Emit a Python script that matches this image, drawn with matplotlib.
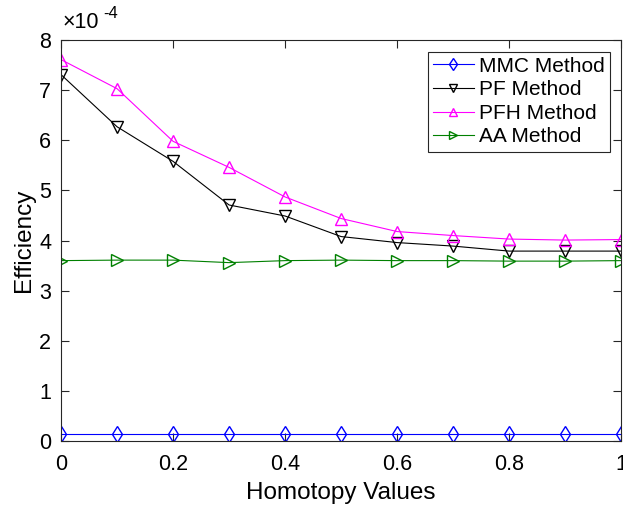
import numpy as np
import matplotlib
matplotlib.use("Agg")
import matplotlib.pyplot as plt
from matplotlib.ticker import FuncFormatter
from matplotlib.transforms import offset_copy

plt.rcParams['font.family'] = ['Liberation Sans', 'DejaVu Sans']

# homotopy values
homotopy = [0.0, 0.1, 0.2, 0.3, 0.4, 0.5, 0.6, 0.7, 0.8, 0.9, 1.0]

# efficiency of each method (x 1e-4)
mmc = [0.15, 0.15, 0.15, 0.15, 0.15, 0.15, 0.15, 0.15, 0.15, 0.15, 0.15]
pf = [7.31, 6.27, 5.58, 4.71, 4.49, 4.08, 3.96, 3.89, 3.79, 3.79, 3.79]
pfh = [7.61, 7.03, 5.98, 5.46, 4.87, 4.44, 4.18, 4.10, 4.03, 4.01, 4.02]
aa = [3.60, 3.61, 3.61, 3.56, 3.60, 3.61, 3.60, 3.60, 3.59, 3.59, 3.60]

scale = 1e-4

fig = plt.figure(figsize=(6.23, 5.07), dpi=100)
ax = fig.add_axes([0.098, 0.130, 0.899, 0.791])

lw = 0.8
ms = 8
ax.plot(homotopy, np.array(mmc) * scale, color='#0000ff', marker='d', mfc='none', ms=ms, lw=lw, label='MMC Method')
ax.plot(homotopy, np.array(pf) * scale, color='black', marker='v', mfc='none', ms=ms, lw=lw, label='PF Method')
ax.plot(homotopy, np.array(pfh) * scale, color='#ff00ff', marker='^', mfc='none', ms=ms, lw=lw, label='PFH Method')
ax.plot(homotopy, np.array(aa) * scale, color='#008000', marker='>', mfc='none', ms=ms, lw=lw, label='AA Method')

ax.set_xlim(0, 1)
ax.set_ylim(0, 8e-4)
ax.set_xticks([0, 0.2, 0.4, 0.6, 0.8, 1.0])
ax.set_xticklabels(['0', '0.2', '0.4', '0.6', '0.8', '1'])
ax.set_yticks(np.arange(0, 9) * scale)
ax.yaxis.set_major_formatter(FuncFormatter(lambda v, p: '%g' % round(v / scale, 6)))

# MATLAB style exponent label
ax.text(0.003, 1.0, '\u00d710', transform=offset_copy(ax.transAxes, fig=fig, x=0, y=5, units='points'),
        fontsize=15.5, ha='left', va='bottom')
ax.text(0.075, 1.0, '-4', transform=offset_copy(ax.transAxes, fig=fig, x=0, y=14, units='points'),
        fontsize=12, ha='left', va='bottom')

ax.tick_params(direction='in', top=True, right=True, labelsize=15.5, length=6, width=0.8,
               colors='#262626', labelcolor='black')
ax.tick_params(axis='x', pad=9)
ax.tick_params(axis='y', pad=7)
for s in ax.spines.values():
    s.set_linewidth(0.8)
    s.set_color('#262626')

ax.set_xlabel('Homotopy Values', fontsize=17.5, labelpad=5)
ax.set_ylabel('Efficiency', fontsize=17.5, labelpad=3)

leg = ax.legend(loc='upper right', fontsize=15, fancybox=False, edgecolor='#262626',
                framealpha=1, handlelength=1.95, borderaxespad=0.55, labelspacing=0.22,
                handletextpad=0.25, borderpad=0.25)
leg.get_frame().set_linewidth(0.8)
for h in leg.legend_handles:
    h.set_markersize(6)

fig.savefig('out.png', dpi=100)
